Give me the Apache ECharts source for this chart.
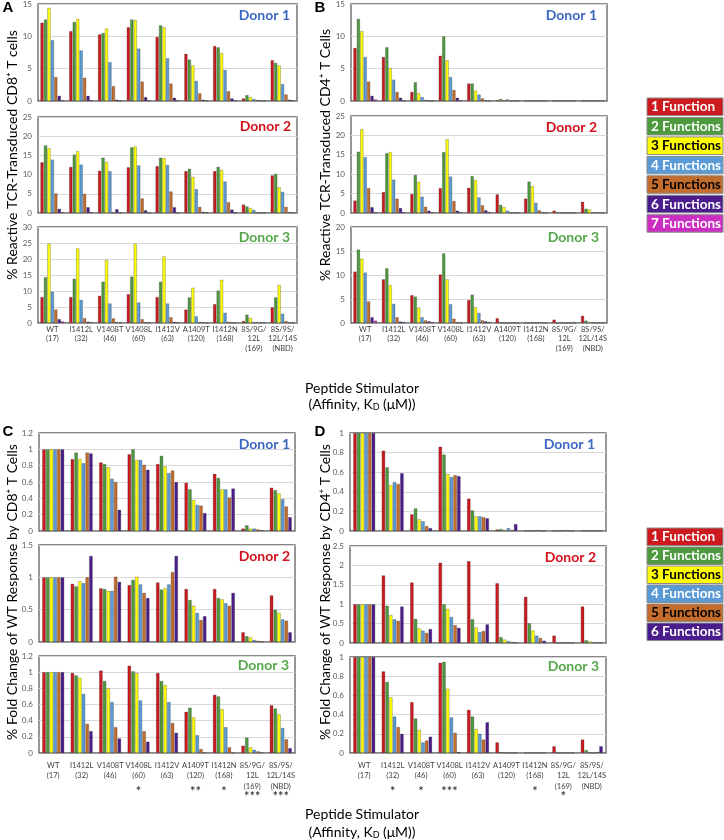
<!DOCTYPE html>
<html><head><meta charset="utf-8">
<script src="https://cdn.jsdelivr.net/npm/echarts@6/dist/echarts.min.js"></script>
<style>html,body{margin:0;padding:0;background:#fff}#c{width:724px;height:840px}</style>
</head><body><div id="c"></div>
<script>
// ---------- DATA ----------
const categories = ['WT\n(17)', 'I1412L\n(32)', 'V1408T\n(46)', 'V1408L\n(60)', 'I1412V\n(63)', 'A1409T\n(120)', 'I1412N\n(168)', '8S/9G/\n12L\n(169)', '8S/9S/\n12L/14S\n(NBD)'];
const functionNames = ['1 Function', '2 Functions', '3 Functions', '4 Functions', '5 Functions', '6 Functions', '7 Functions'];
const donorNames = ['Donor 1', 'Donor 2', 'Donor 3'];
const starsC = ['', '', '', '*', '', '**', '*', '***', '***'];
const starsD = ['', '*', '*', '***', '', '', '*', '*', ''];

// Panel A: % reactive CD8+ (rows = 1..7 functions, columns = categories)
const A_donor1 = [
  [12.1, 10.8, 10.3, 11.4, 9.9, 7.3, 8.5, 0.4, 6.3],
  [12.6, 12.2, 10.5, 12.6, 11.7, 6.4, 8.3, 0.9, 5.9],
  [14.4, 12.7, 11.2, 12.5, 11.4, 5.5, 7.4, 0.6, 5.5],
  [9.4, 7.8, 6.0, 8.1, 6.6, 3.1, 4.8, 0.3, 2.6],
  [3.7, 3.6, 2.3, 3.0, 2.7, 1.2, 1.5, 0.15, 1.0],
  [0.8, 0.8, 0.2, 0.6, 0.5, 0.2, 0.4, 0.05, 0.2],
  [0.1, 0.1, 0, 0.1, 0.1, 0, 0.05, 0, 0]
];
const A_donor2 = [
  [13.2, 12.0, 11.0, 11.9, 12.2, 10.9, 10.9, 2.2, 9.8],
  [17.6, 15.2, 14.4, 17.1, 14.4, 11.5, 12.0, 1.7, 10.2],
  [16.9, 16.1, 13.3, 17.3, 14.3, 9.4, 11.2, 1.3, 6.7],
  [13.9, 12.6, 10.9, 12.4, 12.5, 6.2, 8.2, 0.8, 5.5],
  [5.1, 5.0, 0, 3.8, 5.6, 1.6, 2.8, 0, 1.6],
  [1.1, 1.5, 1.0, 0.7, 1.5, 0.3, 0.9, 0.15, 0.2],
  [0.1, 0.2, 0, 0, 0, 0.1, 0, 0, 0]
];
const A_donor3 = [
  [8.1, 8.1, 8.5, 9.0, 8.1, 4.2, 5.9, 0.6, 4.9],
  [14.3, 13.8, 12.9, 14.5, 12.9, 8.0, 10.1, 2.6, 8.0],
  [24.8, 23.3, 19.7, 24.8, 20.8, 11.0, 13.5, 1.6, 11.9],
  [9.8, 7.2, 6.1, 6.4, 6.1, 2.1, 3.2, 0.3, 2.9],
  [4.2, 1.5, 1.4, 1.2, 1.8, 0.2, 0.4, 0.2, 0.6],
  [1.2, 0.4, 0.2, 0.2, 0.3, 0, 0, 0.1, 0.1],
  [0.5, 0.2, 0.1, 0, 0.2, 0, 0, 0.1, 0]
];
// Panel B: % reactive CD4+
const B_donor1 = [
  [8.2, 6.8, 1.4, 7.0, 2.7, 0.1, 0, 0, 0],
  [12.7, 8.3, 2.9, 10.0, 2.7, 0.3, 0, 0, 0],
  [10.8, 5.1, 1.2, 6.3, 1.6, 0.1, 0, 0, 0],
  [6.8, 3.3, 0.6, 3.7, 1.0, 0.25, 0.05, 0.05, 0],
  [3.0, 1.4, 0.15, 1.7, 0.4, 0, 0, 0, 0],
  [0.8, 0.5, 0, 0.5, 0.1, 0, 0, 0, 0],
  [0.25, 0, 0, 0.1, 0, 0, 0, 0, 0]
];
const B_donor2 = [
  [3.2, 5.4, 4.9, 6.4, 6.5, 4.8, 3.7, 0.6, 2.9],
  [15.8, 15.4, 9.8, 15.7, 9.5, 2.1, 8.1, 0.1, 1.1],
  [21.6, 15.7, 8.0, 19.0, 8.5, 1.5, 6.9, 0.05, 0.9],
  [14.4, 8.6, 4.2, 9.4, 4.0, 0.6, 2.6, 0.05, 0.1],
  [6.4, 3.7, 1.6, 3.1, 2.0, 0.1, 0.7, 0, 0.1],
  [1.5, 1.3, 0.6, 0.6, 0.7, 0, 0.1, 0, 0],
  [0.2, 0.2, 0.2, 0.2, 0.3, 0, 0, 0, 0]
];
const B_donor3 = [
  [10.7, 9.1, 5.8, 10.1, 4.8, 1.0, 0, 0.7, 1.5],
  [15.3, 11.4, 5.5, 14.5, 5.9, 0.1, 0, 0, 0.5],
  [13.4, 7.9, 3.2, 9.1, 3.3, 0, 0.05, 0, 0.2],
  [10.5, 4.0, 1.2, 3.9, 2.1, 0, 0.05, 0, 0],
  [4.5, 1.2, 0.55, 0.9, 0.55, 0, 0.05, 0, 0],
  [1.2, 0.3, 0.35, 0.1, 0.35, 0, 0, 0, 0.1],
  [0.5, 0.2, 0.2, 0, 0.2, 0, 0.05, 0, 0]
];
// Panel C: fold change of WT, CD8+
const C_donor1 = [
  [1, 0.88, 0.84, 0.94, 0.82, 0.59, 0.70, 0.03, 0.53],
  [1, 0.96, 0.82, 1.0, 0.92, 0.51, 0.65, 0.07, 0.50],
  [1, 0.88, 0.78, 0.87, 0.79, 0.38, 0.51, 0.03, 0.46],
  [1, 0.83, 0.64, 0.87, 0.71, 0.32, 0.51, 0.03, 0.39],
  [1, 0.96, 0.60, 0.81, 0.74, 0.31, 0.41, 0.02, 0.30],
  [1, 0.95, 0.26, 0.75, 0.60, 0.22, 0.52, 0.01, 0.17]
];
const C_donor2 = [
  [1, 0.90, 0.83, 0.88, 0.92, 0.82, 0.82, 0.15, 0.72],
  [1, 0.86, 0.82, 0.96, 0.81, 0.65, 0.68, 0.09, 0.50],
  [1, 0.94, 0.79, 1.01, 0.83, 0.56, 0.66, 0.07, 0.45],
  [1, 0.91, 0.79, 0.89, 0.89, 0.45, 0.60, 0.03, 0.35],
  [1, 1.0, 1.01, 0.76, 1.08, 0.34, 0.56, 0.02, 0.33],
  [1, 1.33, 0.93, 0.68, 1.33, 0.40, 0.76, 0, 0.15]
];
const C_donor3 = [
  [1, 0.99, 1.02, 1.08, 0.99, 0.51, 0.72, 0.09, 0.59],
  [1, 0.96, 0.89, 1.01, 0.89, 0.56, 0.70, 0.19, 0.55],
  [1, 0.93, 0.80, 0.99, 0.84, 0.44, 0.54, 0.07, 0.48],
  [1, 0.73, 0.63, 0.65, 0.63, 0.22, 0.32, 0.04, 0.31],
  [1, 0.36, 0.32, 0.27, 0.37, 0.05, 0.07, 0.02, 0.17],
  [1, 0.27, 0.18, 0.14, 0.25, 0, 0, 0, 0.06]
];
// Panel D: fold change of WT, CD4+
const D_donor1 = [
  [1, 0.82, 0.17, 0.86, 0.33, 0.015, 0, 0, 0],
  [1, 0.65, 0.23, 0.78, 0.21, 0.02, 0, 0, 0],
  [1, 0.47, 0.12, 0.58, 0.15, 0.01, 0, 0, 0],
  [1, 0.50, 0.10, 0.55, 0.15, 0.03, 0.01, 0.01, 0],
  [1, 0.48, 0.05, 0.57, 0.14, 0.01, 0, 0, 0],
  [1, 0.59, 0.03, 0.56, 0.13, 0.07, 0, 0, 0.005]
];
const D_donor2 = [
  [1, 1.74, 1.56, 2.07, 2.11, 1.54, 1.19, 0.19, 0.94],
  [1, 0.96, 0.62, 1.0, 0.61, 0.15, 0.51, 0, 0.07],
  [1, 0.72, 0.38, 0.88, 0.40, 0.09, 0.32, 0, 0.04],
  [1, 0.61, 0.32, 0.67, 0.28, 0.05, 0.19, 0, 0.01],
  [1, 0.57, 0.26, 0.46, 0.31, 0.03, 0.13, 0, 0.01],
  [1, 0.94, 0.36, 0.39, 0.48, 0, 0.06, 0, 0.01]
];
const D_donor3 = [
  [1, 0.85, 0.53, 0.94, 0.45, 0.11, 0, 0.07, 0.14],
  [1, 0.74, 0.36, 0.95, 0.38, 0.01, 0, 0, 0.03],
  [1, 0.58, 0.24, 0.67, 0.25, 0, 0, 0, 0],
  [1, 0.38, 0.11, 0.37, 0.20, 0, 0, 0, 0],
  [1, 0.27, 0.13, 0.21, 0.14, 0, 0, 0, 0.01],
  [1, 0.20, 0.17, 0.01, 0.32, 0, 0, 0, 0.07]
];
const yMaxA = [15, 25, 30], yStepA = [5, 5, 5];
const yMaxB = [15, 25, 20], yStepB = [5, 5, 5];
const yMaxC = [1.2, 1.5, 1.2], yStepC = [0.2, 0.5, 0.2];
const yMaxD = [1, 2.5, 1], yStepD = [0.2, 0.5, 0.2];

// ---------- STYLE / LAYOUT ----------
const FONT = 'Lato, "Open Sans", sans-serif';
const barColors = ['#CC1A1F', '#4E9A3E', '#FFFF00', '#5B9BD5', '#C46C2C', '#4B1C8C', '#CC2EC4'];
const donorColors = ['#3A66C4', '#D0101A', '#55A84A'];
const panels = [
  {data: A_donor1, max: yMaxA[0], step: yStepA[0], d: 0, g: {left: 38, top: 4, width: 259, height: 97}, lab: [290, 15], bottom: null},
  {data: A_donor2, max: yMaxA[1], step: yStepA[1], d: 1, g: {left: 38, top: 117, width: 259, height: 96}, lab: [291, 126], bottom: null},
  {data: A_donor3, max: yMaxA[2], step: yStepA[2], d: 2, g: {left: 38, top: 227, width: 259, height: 96}, lab: [290, 237], bottom: 'AB'},
  {data: B_donor1, max: yMaxB[0], step: yStepB[0], d: 0, g: {left: 351, top: 4, width: 256, height: 97}, lab: [597, 15], bottom: null},
  {data: B_donor2, max: yMaxB[1], step: yStepB[1], d: 1, g: {left: 351, top: 116, width: 256, height: 97}, lab: [597, 127], bottom: null},
  {data: B_donor3, max: yMaxB[2], step: yStepB[2], d: 2, g: {left: 351, top: 227, width: 256, height: 96}, lab: [599, 237], bottom: 'AB'},
  {data: C_donor1, max: yMaxC[0], step: yStepC[0], d: 0, g: {left: 39, top: 433, width: 256, height: 98}, lab: [290, 444], bottom: null},
  {data: C_donor2, max: yMaxC[1], step: yStepC[1], d: 1, g: {left: 39, top: 545, width: 256, height: 97}, lab: [290, 556], bottom: null},
  {data: C_donor3, max: yMaxC[2], step: yStepC[2], d: 2, g: {left: 39, top: 656, width: 256, height: 97}, lab: [289, 665], bottom: 'CD', stars: starsC},
  {data: D_donor1, max: yMaxD[0], step: yStepD[0], d: 0, g: {left: 350, top: 433, width: 256, height: 98}, lab: [595, 444], bottom: null},
  {data: D_donor2, max: yMaxD[1], step: yStepD[1], d: 1, g: {left: 350, top: 546, width: 256, height: 97}, lab: [596, 557], bottom: null},
  {data: D_donor3, max: yMaxD[2], step: yStepD[2], d: 2, g: {left: 350, top: 657, width: 256, height: 96}, lab: [599, 666], bottom: 'CD', stars: starsD}
];

const grid = [], xAxis = [], yAxis = [], series = [], graphic = [];
panels.forEach((p, i) => {
  grid.push(Object.assign({show: true, borderColor: '#5f5f5f', borderWidth: 1.3, backgroundColor: '#fff'}, p.g));
  const showLab = !!p.bottom;
  xAxis.push({
    type: 'category', gridIndex: i, data: categories,
    axisTick: {show: false},
    axisLine: {show: true, lineStyle: {color: '#a0a0a0', width: 1}},
    axisLabel: {
      show: showLab, interval: 0, color: '#404040', fontFamily: FONT, fontSize: 7.5,
      lineHeight: p.bottom === 'AB' ? 9.3 : 10.5, margin: p.bottom === 'AB' ? 2 : 7
    }
  });
  yAxis.push({
    type: 'value', gridIndex: i, min: 0, max: p.max, interval: p.step,
    axisLine: {show: false}, axisTick: {show: false},
    axisLabel: {color: '#595959', fontFamily: FONT, fontSize: 8, margin: 6},
    splitLine: {lineStyle: {color: '#d9d9d9', width: 1}}
  });
  const nf = p.data.length;
  p.data.forEach((row, f) => {
    series.push({
      type: 'bar', name: functionNames[f], xAxisIndex: i, yAxisIndex: i, data: row,
      silent: true, animation: false,
      barGap: '8%', barCategoryGap: nf === 7 ? '17%' : '23%',
      itemStyle: {color: barColors[f], borderColor: 'rgba(40,40,40,0.55)', borderWidth: 0.5}
    });
  });
  graphic.push({type: 'text', x: p.lab[0], y: p.lab[1], silent: true,
    style: {text: donorNames[p.d], fill: donorColors[p.d], font: 'bold 14px ' + FONT, align: 'right', verticalAlign: 'middle'}});
});
// star rows (significance marks under the category labels)
panels.forEach((p, i) => {
  if (!p.stars) return;
  xAxis.push({
    type: 'category', gridIndex: i, data: categories, position: 'bottom', offset: 29,
    axisTick: {show: false}, axisLine: {show: false},
    axisLabel: {interval: 0, color: '#222', fontFamily: FONT, fontSize: 13, margin: 0,
      formatter: (v, idx) => {
        const s = p.stars[idx];
        if (!s) return '';
        return (categories[idx].split('\n').length > 2 ? '{b|' : '{a|') + s + '}';
      },
      rich: {
        a: {fontSize: 13, fontFamily: FONT, color: '#222', padding: [3, 0, 0, 0]},
        b: {fontSize: 13, fontFamily: FONT, color: '#222', padding: [8, 0, 0, 0]}
      }}
  });
});

// legends
function legend(top, n, pitch) {
  for (let k = 0; k < n; k++) {
    const y = top + k * pitch;
    graphic.push({type: 'rect', silent: true, shape: {x: 647, y: y, width: 76, height: 17.5},
      style: {fill: barColors[k], stroke: '#8a8a8a', lineWidth: 1}});
    graphic.push({type: 'text', silent: true, x: 651, y: y + 9,
      style: {text: functionNames[k], font: 'bold 13.5px ' + FONT,
        fill: (k === 2 || k === 4) ? '#000' : '#fff', align: 'left', verticalAlign: 'middle'}});
  }
}
legend(98, 7, 19.45);
legend(528, 6, 19.0);

// panel letters
[['A', 8, 8], ['B', 320, 8], ['C', 8, 432], ['D', 320, 432]].forEach(([t, x, y]) => {
  graphic.push({type: 'text', silent: true, x: x, y: y,
    style: {text: t, font: 'bold 15px "Liberation Sans", Arial, sans-serif', fill: '#000', align: 'center', verticalAlign: 'middle'}});
});
// y-axis titles
[['% Reactive TCR-Transduced CD8\u207A T cells', 12, 155], ['% Reactive TCR-Transduced CD4\u207A T Cells', 325, 155],
 ['% Fold Change of WT Response by CD8\u207A T Cells', 12, 592], ['% Fold Change of WT Response by CD4\u207A T Cells', 325, 592]]
.forEach(([t, x, y]) => {
  graphic.push({type: 'text', silent: true, x: x, y: y, rotation: Math.PI / 2,
    style: {text: t, font: '14px ' + FONT, fill: '#000', align: 'center', verticalAlign: 'middle'}});
});
// x-axis titles
[[388, 404], [814, 832]].forEach(([y1, y2]) => {
  graphic.push({type: 'text', silent: true, x: 362, y: y1,
    style: {text: 'Peptide Stimulator', font: '14px ' + FONT, fill: '#000', align: 'center', verticalAlign: 'middle'}});
  graphic.push({type: 'text', silent: true, x: 362, y: y2,
    style: {text: '(Affinity, K{s|D} (\u03BCM))', font: '14px ' + FONT, fill: '#000', align: 'center', verticalAlign: 'middle',
      rich: {s: {fontSize: 9, fontFamily: FONT, verticalAlign: 'bottom', padding: [6, 0, 0, 0]}}}});
});

const chart = echarts.init(document.getElementById('c'), null, {renderer: 'canvas'});
chart.setOption({animation: false, grid, xAxis, yAxis, series, graphic});
</script></body></html>
